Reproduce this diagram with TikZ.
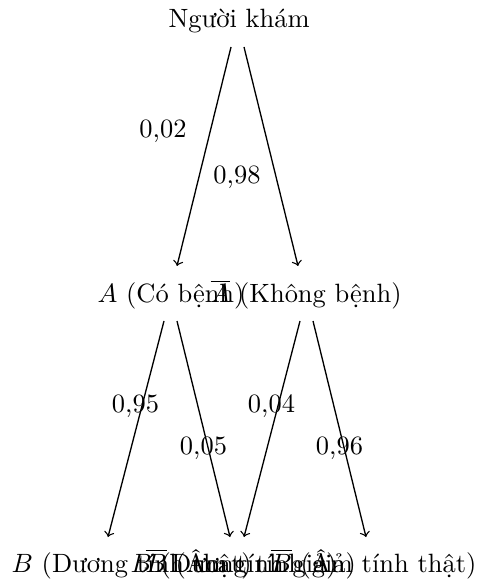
\documentclass[tikz,border=0pt]{standalone}
\usepackage{fontspec}
\usetikzlibrary{calc}
\begin{document}
\begin{tikzpicture}[x=0.378pt,y=-0.378pt,
  lbl/.style={inner sep=0pt, anchor=base west},
  num/.style={inner sep=0pt},
  arr/.style={->, line width=0.5pt}]
\useasboundingbox (0,0) rectangle (476,583);
% nodes
\node[lbl] (root) at (168,28) {Người khám};
\node[lbl] (a) at (97,303) {$A$ (Có bệnh)};
\node[lbl] (abar) at (210,303) {$\overline{A}$ (Không bệnh)};
\node[lbl] (b1) at (11,572) {$B$ (Dương tính thật)};
\node[lbl] (b2) at (145,572) {$\overline{B}$ (Âm tính giả)};
\node[lbl] (b3) at (130,572) {$B$ (Dương tính giả)};
\node[lbl] (b4) at (270,572) {$\overline{B}$ (Âm tính thật)};
% connectors
\draw[arr] ($(root.base west)+(63,19)$) -- ($(a.base west)+(80,-37)$);
\draw[arr] ($(root.base west)+(76,19)$) -- ($(abar.base west)+(88,-37)$);
\draw[arr] ($(a.base west)+(67,18)$) -- ($(b1.base west)+(97,-35)$);
\draw[arr] ($(a.base west)+(80,18)$) -- ($(b2.base west)+(85,-35)$);
\draw[arr] ($(abar.base west)+(90,18)$) -- ($(b3.base west)+(114,-35)$);
\draw[arr] ($(abar.base west)+(103,18)$) -- ($(b4.base west)+(96,-35)$);
% labels
\node[num] (l1) at (163,131) {0,02};
\node[num] (l2) at (237,177) {0,98};
\node[num] (l3) at (135.5,406) {0,95};
\node[num] (l4) at (203.5,448) {0,05};
\node[num] (l5) at (271.5,406) {0,04};
\node[num] (l6) at (339.5,448) {0,96};
\end{tikzpicture}
\end{document}
